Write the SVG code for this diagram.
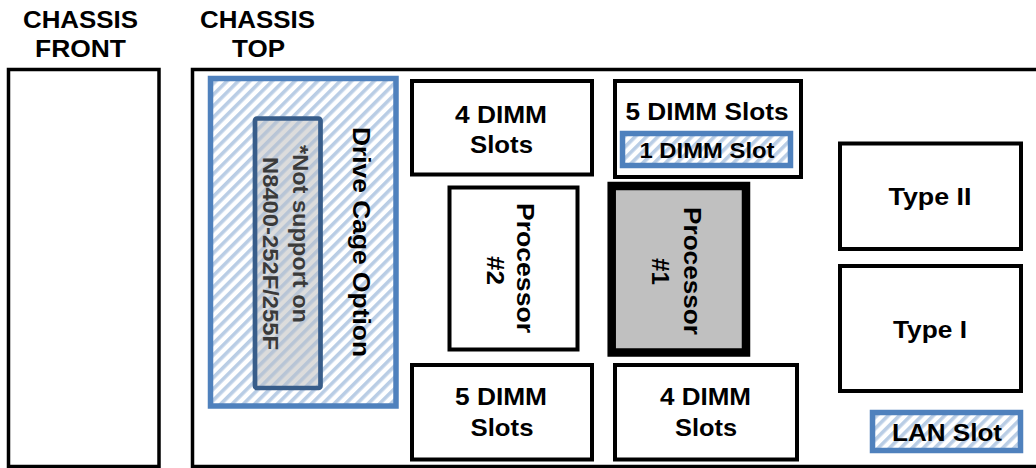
<svg xmlns="http://www.w3.org/2000/svg" width="1036" height="468" viewBox="0 0 1036 468">
<defs>
<pattern id="hatch" width="8" height="8" patternUnits="userSpaceOnUse" patternTransform="rotate(45)">
<rect width="8" height="8" fill="#ffffff"/>
<rect width="3.6" height="8" fill="#b9cde5"/>
</pattern>
<pattern id="hatchGray" width="8" height="8" patternUnits="userSpaceOnUse" patternTransform="rotate(45)">
<rect width="8" height="8" fill="#dcdcdc"/>
<rect width="3.6" height="8" fill="#b8c5d6"/>
</pattern>
<style>
.t{font-family:"Liberation Sans",Arial,sans-serif;font-weight:bold;font-size:24px;fill:#000}
.ts{font-family:"Liberation Sans",Arial,sans-serif;font-weight:bold;font-size:22px;fill:#000}
.tg{font-family:"Liberation Sans",Arial,sans-serif;font-weight:bold;font-size:22px;fill:#3a3a3a}
.box{fill:#fff;stroke:#000;stroke-width:4}
.chassis{fill:#fff;stroke:#000;stroke-width:3.5}
.blue{fill:url(#hatch);stroke:#4f81bd;stroke-width:5.5}
</style>
</defs>

<g id="chassis-front">
<rect class="chassis" x="8.5" y="69.5" width="150.5" height="397"/>
<text class="t" x="80.5" y="28" text-anchor="middle" textLength="115" lengthAdjust="spacingAndGlyphs">CHASSIS</text>
<text class="t" x="80.5" y="57" text-anchor="middle" textLength="91" lengthAdjust="spacingAndGlyphs">FRONT</text>
</g>

<g id="chassis-top">
<rect class="chassis" x="192.5" y="69.5" width="900" height="397"/>
<text class="t" x="257.5" y="28" text-anchor="middle" textLength="115" lengthAdjust="spacingAndGlyphs">CHASSIS</text>
<text class="t" x="258.5" y="57" text-anchor="middle" textLength="53" lengthAdjust="spacingAndGlyphs">TOP</text>
</g>

<g id="drive-cage">
<rect class="blue" x="210.5" y="78.5" width="185.5" height="327.5"/>
<text class="t" transform="translate(353,127) rotate(90)" text-anchor="start" textLength="230" lengthAdjust="spacingAndGlyphs">Drive Cage Option</text>
</g>

<g id="not-supported">
<rect x="255" y="118.5" width="65.5" height="269.5" rx="2" fill="url(#hatchGray)" stroke="#385d8a" stroke-width="4.7"/>
<text class="tg" transform="translate(293,145) rotate(90)" text-anchor="start" textLength="178" lengthAdjust="spacingAndGlyphs">*Not support on</text>
<text class="tg" transform="translate(263,157) rotate(90)" text-anchor="start" textLength="193" lengthAdjust="spacingAndGlyphs">N8400-252F/255F</text>
</g>

<g id="dimm-4-top">
<rect class="box" x="412" y="81" width="180" height="93.5"/>
<text class="t" x="501" y="123" text-anchor="middle" textLength="92" lengthAdjust="spacingAndGlyphs">4 DIMM</text>
<text class="t" x="501.5" y="153" text-anchor="middle" textLength="63" lengthAdjust="spacingAndGlyphs">Slots</text>
</g>

<g id="dimm-5-top">
<rect class="box" x="615" y="81" width="186" height="96"/>
<text class="t" x="707" y="120" text-anchor="middle" textLength="163" lengthAdjust="spacingAndGlyphs">5 DIMM Slots</text>
</g>

<g id="dimm-1">
<rect class="blue" x="622.5" y="133.5" width="168" height="32"/>
<text class="ts" x="707" y="158" text-anchor="middle" textLength="135" lengthAdjust="spacingAndGlyphs">1 DIMM Slot</text>
</g>

<g id="processor-2">
<rect class="box" x="449.5" y="187.5" width="128" height="162" stroke-width="4.5"/>
<text class="t" transform="translate(517,268) rotate(90)" text-anchor="middle" textLength="130" lengthAdjust="spacingAndGlyphs">Processor</text>
<text class="t" transform="translate(487,270.5) rotate(90)" text-anchor="middle" textLength="29" lengthAdjust="spacingAndGlyphs">#2</text>
</g>

<g id="processor-1">
<rect x="611.7" y="186" width="134.3" height="166.5" fill="#c0c0c0" stroke="#000" stroke-width="8.5"/>
<text class="t" transform="translate(684,271) rotate(90)" text-anchor="middle" textLength="128" lengthAdjust="spacingAndGlyphs">Processor</text>
<text class="t" transform="translate(652,271.5) rotate(90)" text-anchor="middle" textLength="27" lengthAdjust="spacingAndGlyphs">#1</text>
</g>

<g id="type-2">
<rect class="box" x="840" y="143.5" width="181" height="105.5"/>
<text class="t" x="930" y="205" text-anchor="middle" textLength="83" lengthAdjust="spacingAndGlyphs">Type II</text>
</g>

<g id="type-1">
<rect class="box" x="840" y="266" width="181" height="125"/>
<text class="t" x="930" y="338" text-anchor="middle" textLength="74" lengthAdjust="spacingAndGlyphs">Type I</text>
</g>

<g id="dimm-5-bottom">
<rect class="box" x="412" y="365" width="180" height="94.5"/>
<text class="t" x="501" y="405" text-anchor="middle" textLength="92" lengthAdjust="spacingAndGlyphs">5 DIMM</text>
<text class="t" x="502" y="436" text-anchor="middle" textLength="63" lengthAdjust="spacingAndGlyphs">Slots</text>
</g>

<g id="dimm-4-bottom">
<rect class="box" x="615" y="365" width="182" height="94.5"/>
<text class="t" x="705.5" y="405" text-anchor="middle" textLength="91" lengthAdjust="spacingAndGlyphs">4 DIMM</text>
<text class="t" x="706" y="436" text-anchor="middle" textLength="62" lengthAdjust="spacingAndGlyphs">Slots</text>
</g>

<g id="lan-slot">
<rect class="blue" x="872.5" y="412.5" width="148" height="38"/>
<text class="t" x="947" y="441" text-anchor="middle" textLength="110" lengthAdjust="spacingAndGlyphs">LAN Slot</text>
</g>

<g id="connectors"/>
</svg>
